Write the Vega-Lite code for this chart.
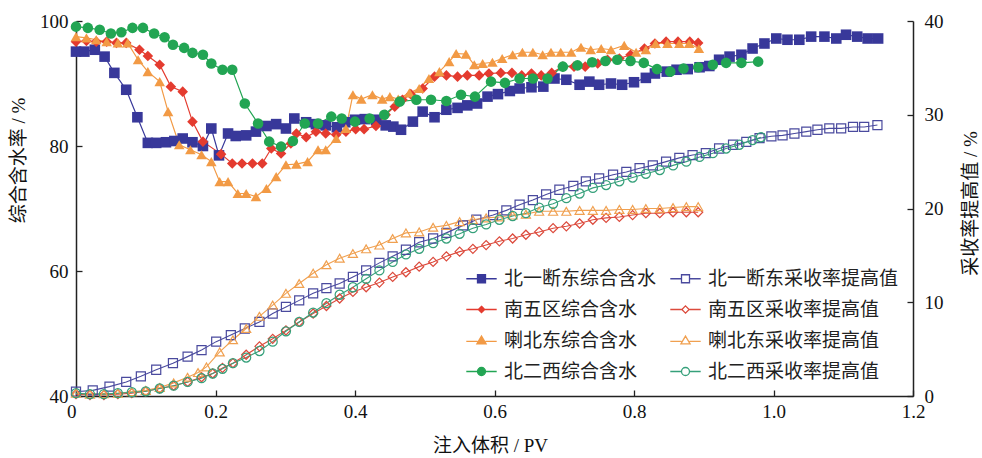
{
"$schema": "https://vega.github.io/schema/vega-lite/v6.json",
"width": 837, "height": 375,
"autosize": {"type": "none"},
"padding": {"left": 76, "top": 21, "right": 69, "bottom": 62},
"background": "white",
"config": {
  "view": {"stroke": null},
  "axis": {"domainColor": "#222", "domainWidth": 1.5, "tickColor": "#222", "tickWidth": 1.3, "tickSize": -6, "labelFont": "Liberation Serif, Times New Roman, serif", "labelFontSize": 19, "labelColor": "#111", "titleFont": "Liberation Serif, Noto Sans CJK SC, serif", "titleFontSize": 19, "titleFontWeight": "normal", "titleColor": "#111", "grid": false},
  "legend": {"labelFont": "Noto Sans CJK SC", "labelFontSize": 19, "labelColor": "#222", "labelLimit": 400}
},
"datasets": {
"wc": [
{"s":"北一断东","x":0,"v":95.1},{"s":"北一断东","x":0.012,"v":95.1},{"s":"北一断东","x":0.027,"v":95.4},{"s":"北一断东","x":0.041,"v":94.3},{"s":"北一断东","x":0.055,"v":91.7},{"s":"北一断东","x":0.072,"v":89.0},{"s":"北一断东","x":0.088,"v":84.6},{"s":"北一断东","x":0.103,"v":80.5},{"s":"北一断东","x":0.115,"v":80.5},{"s":"北一断东","x":0.129,"v":80.6},{"s":"北一断东","x":0.141,"v":80.8},{"s":"北一断东","x":0.153,"v":81.2},{"s":"北一断东","x":0.167,"v":80.6},{"s":"北一断东","x":0.182,"v":80.0},{"s":"北一断东","x":0.194,"v":82.8},{"s":"北一断东","x":0.205,"v":78.5},{"s":"北一断东","x":0.218,"v":82.0},{"s":"北一断东","x":0.229,"v":81.6},{"s":"北一断东","x":0.244,"v":81.7},{"s":"北一断东","x":0.258,"v":82.3},{"s":"北一断东","x":0.273,"v":83.2},{"s":"北一断东","x":0.287,"v":83.5},{"s":"北一断东","x":0.301,"v":82.8},{"s":"北一断东","x":0.313,"v":84.4},{"s":"北一断东","x":0.33,"v":83.8},{"s":"北一断东","x":0.344,"v":83.5},{"s":"北一断东","x":0.358,"v":83.3},{"s":"北一断东","x":0.374,"v":83.0},{"s":"北一断东","x":0.386,"v":83.8},{"s":"北一断东","x":0.4,"v":84.2},{"s":"北一断东","x":0.414,"v":84.3},{"s":"北一断东","x":0.43,"v":84.2},{"s":"北一断东","x":0.444,"v":83.3},{"s":"北一断东","x":0.455,"v":83.1},{"s":"北一断东","x":0.466,"v":82.6},{"s":"北一断东","x":0.483,"v":83.9},{"s":"北一断东","x":0.497,"v":85.5},{"s":"北一断东","x":0.514,"v":84.6},{"s":"北一断东","x":0.531,"v":85.8},{"s":"北一断东","x":0.547,"v":86.1},{"s":"北一断东","x":0.561,"v":86.5},{"s":"北一断东","x":0.575,"v":86.8},{"s":"北一断东","x":0.59,"v":87.9},{"s":"北一断东","x":0.605,"v":88.3},{"s":"北一断东","x":0.622,"v":88.8},{"s":"北一断东","x":0.636,"v":89.2},{"s":"北一断东","x":0.653,"v":89.4},{"s":"北一断东","x":0.67,"v":89.5},{"s":"北一断东","x":0.686,"v":90.8},{"s":"北一断东","x":0.703,"v":90.6},{"s":"北一断东","x":0.722,"v":89.8},{"s":"北一断东","x":0.736,"v":90.3},{"s":"北一断东","x":0.75,"v":89.8},{"s":"北一断东","x":0.767,"v":90.0},{"s":"北一断东","x":0.783,"v":89.8},{"s":"北一断东","x":0.8,"v":90.2},{"s":"北一断东","x":0.817,"v":90.9},{"s":"北一断东","x":0.83,"v":91.6},{"s":"北一断东","x":0.847,"v":91.9},{"s":"北一断东","x":0.861,"v":92.2},{"s":"北一断东","x":0.877,"v":92.3},{"s":"北一断东","x":0.894,"v":92.6},{"s":"北一断东","x":0.908,"v":92.8},{"s":"北一断东","x":0.922,"v":93.8},{"s":"北一断东","x":0.937,"v":94.3},{"s":"北一断东","x":0.954,"v":94.6},{"s":"北一断东","x":0.97,"v":95.6},{"s":"北一断东","x":0.987,"v":96.4},{"s":"北一断东","x":1.004,"v":97.2},{"s":"北一断东","x":1.02,"v":97.0},{"s":"北一断东","x":1.037,"v":97.0},{"s":"北一断东","x":1.054,"v":97.5},{"s":"北一断东","x":1.073,"v":97.5},{"s":"北一断东","x":1.09,"v":97.2},{"s":"北一断东","x":1.104,"v":97.8},{"s":"北一断东","x":1.12,"v":97.5},{"s":"北一断东","x":1.135,"v":97.2},{"s":"北一断东","x":1.15,"v":97.2},
{"s":"南五区","x":0,"v":96.7},{"s":"南五区","x":0.015,"v":96.8},{"s":"南五区","x":0.029,"v":96.7},{"s":"南五区","x":0.044,"v":96.7},{"s":"南五区","x":0.058,"v":96.5},{"s":"南五区","x":0.072,"v":96.5},{"s":"南五区","x":0.091,"v":95.4},{"s":"南五区","x":0.103,"v":94.4},{"s":"南五区","x":0.12,"v":93.0},{"s":"南五区","x":0.136,"v":89.5},{"s":"南五区","x":0.153,"v":88.7},{"s":"南五区","x":0.167,"v":83.9},{"s":"南五区","x":0.182,"v":80.7},{"s":"南五区","x":0.208,"v":78.7},{"s":"南五区","x":0.224,"v":77.2},{"s":"南五区","x":0.238,"v":77.2},{"s":"南五区","x":0.253,"v":77.2},{"s":"南五区","x":0.267,"v":77.2},{"s":"南五区","x":0.28,"v":79.6},{"s":"南五区","x":0.294,"v":78.8},{"s":"南五区","x":0.308,"v":80.4},{"s":"南五区","x":0.316,"v":82.0},{"s":"南五区","x":0.33,"v":81.4},{"s":"南五区","x":0.344,"v":82.3},{"s":"南五区","x":0.358,"v":82.0},{"s":"南五区","x":0.373,"v":81.8},{"s":"南五区","x":0.387,"v":82.3},{"s":"南五区","x":0.401,"v":82.7},{"s":"南五区","x":0.413,"v":82.7},{"s":"南五区","x":0.43,"v":83.2},{"s":"南五区","x":0.444,"v":85.0},{"s":"南五区","x":0.457,"v":86.3},{"s":"南五区","x":0.468,"v":87.4},{"s":"南五区","x":0.48,"v":88.3},{"s":"南五区","x":0.497,"v":89.2},{"s":"南五区","x":0.514,"v":91.1},{"s":"南五区","x":0.531,"v":91.3},{"s":"南五区","x":0.547,"v":91.1},{"s":"南五区","x":0.561,"v":91.3},{"s":"南五区","x":0.578,"v":91.3},{"s":"南五区","x":0.592,"v":91.6},{"s":"南五区","x":0.609,"v":91.7},{"s":"南五区","x":0.625,"v":91.7},{"s":"南五区","x":0.639,"v":91.3},{"s":"南五区","x":0.653,"v":91.6},{"s":"南五区","x":0.667,"v":91.3},{"s":"南五区","x":0.682,"v":91.7},{"s":"南五区","x":0.698,"v":92.7},{"s":"南五区","x":0.714,"v":92.7},{"s":"南五区","x":0.73,"v":92.7},{"s":"南五区","x":0.748,"v":93.2},{"s":"南五区","x":0.762,"v":93.8},{"s":"南五区","x":0.779,"v":94.0},{"s":"南五区","x":0.795,"v":94.6},{"s":"南五区","x":0.815,"v":95.6},{"s":"南五区","x":0.83,"v":96.4},{"s":"南五区","x":0.846,"v":96.7},{"s":"南五区","x":0.863,"v":96.7},{"s":"南五区","x":0.88,"v":96.7},{"s":"南五区","x":0.892,"v":96.5},
{"s":"喇北东","x":0,"v":97.5},{"s":"喇北东","x":0.015,"v":97.3},{"s":"喇北东","x":0.029,"v":97.0},{"s":"喇北东","x":0.044,"v":96.7},{"s":"喇北东","x":0.06,"v":96.5},{"s":"喇北东","x":0.074,"v":96.5},{"s":"喇北东","x":0.089,"v":93.8},{"s":"喇北东","x":0.103,"v":91.9},{"s":"喇北东","x":0.12,"v":90.3},{"s":"喇北东","x":0.132,"v":85.5},{"s":"喇北东","x":0.148,"v":80.2},{"s":"喇北东","x":0.164,"v":79.4},{"s":"喇北东","x":0.18,"v":78.6},{"s":"喇北东","x":0.194,"v":77.5},{"s":"喇北东","x":0.206,"v":74.3},{"s":"喇北东","x":0.218,"v":74.3},{"s":"喇北东","x":0.232,"v":72.4},{"s":"喇北东","x":0.244,"v":72.4},{"s":"喇北东","x":0.258,"v":71.9},{"s":"喇北东","x":0.273,"v":73.2},{"s":"喇北东","x":0.287,"v":75.1},{"s":"喇北东","x":0.301,"v":77.0},{"s":"喇北东","x":0.316,"v":77.1},{"s":"喇北东","x":0.332,"v":77.5},{"s":"喇北东","x":0.347,"v":79.4},{"s":"喇北东","x":0.358,"v":79.4},{"s":"喇北东","x":0.373,"v":81.2},{"s":"喇北东","x":0.387,"v":82.8},{"s":"喇北东","x":0.397,"v":88.2},{"s":"喇北东","x":0.409,"v":87.5},{"s":"喇北东","x":0.425,"v":88.2},{"s":"喇北东","x":0.439,"v":87.5},{"s":"喇北东","x":0.45,"v":87.9},{"s":"喇北东","x":0.462,"v":87.5},{"s":"喇北东","x":0.478,"v":88.5},{"s":"喇北东","x":0.492,"v":89.2},{"s":"喇北东","x":0.506,"v":90.8},{"s":"喇北东","x":0.521,"v":91.9},{"s":"喇北东","x":0.535,"v":93.5},{"s":"喇北东","x":0.545,"v":94.8},{"s":"喇北东","x":0.559,"v":94.7},{"s":"喇北东","x":0.571,"v":93.0},{"s":"喇北东","x":0.583,"v":93.2},{"s":"喇北东","x":0.597,"v":93.4},{"s":"喇北东","x":0.611,"v":94.0},{"s":"喇北东","x":0.626,"v":94.6},{"s":"喇北东","x":0.64,"v":95.0},{"s":"喇北东","x":0.655,"v":95.0},{"s":"喇北东","x":0.669,"v":94.6},{"s":"喇北东","x":0.681,"v":95.0},{"s":"喇北东","x":0.695,"v":95.0},{"s":"喇北东","x":0.71,"v":95.0},{"s":"喇北东","x":0.724,"v":95.8},{"s":"喇北东","x":0.738,"v":95.4},{"s":"喇北东","x":0.753,"v":95.6},{"s":"喇北东","x":0.767,"v":95.4},{"s":"喇北东","x":0.786,"v":96.1},{"s":"喇北东","x":0.803,"v":95.0},{"s":"喇北东","x":0.817,"v":95.4},{"s":"喇北东","x":0.831,"v":96.4},{"s":"喇北东","x":0.848,"v":96.4},{"s":"喇北东","x":0.865,"v":96.4},{"s":"喇北东","x":0.879,"v":96.4},{"s":"喇北东","x":0.893,"v":95.6},
{"s":"北二西","x":0,"v":99.1},{"s":"北二西","x":0.017,"v":98.9},{"s":"北二西","x":0.034,"v":98.6},{"s":"北二西","x":0.05,"v":98.0},{"s":"北二西","x":0.065,"v":98.2},{"s":"北二西","x":0.081,"v":98.9},{"s":"北二西","x":0.096,"v":98.9},{"s":"北二西","x":0.112,"v":98.0},{"s":"北二西","x":0.127,"v":97.4},{"s":"北二西","x":0.139,"v":96.2},{"s":"北二西","x":0.155,"v":95.7},{"s":"北二西","x":0.167,"v":94.9},{"s":"北二西","x":0.182,"v":94.6},{"s":"北二西","x":0.194,"v":93.2},{"s":"北二西","x":0.21,"v":92.2},{"s":"北二西","x":0.224,"v":92.2},{"s":"北二西","x":0.242,"v":86.8},{"s":"北二西","x":0.261,"v":83.6},{"s":"北二西","x":0.277,"v":80.7},{"s":"北二西","x":0.294,"v":79.9},{"s":"北二西","x":0.311,"v":80.8},{"s":"北二西","x":0.328,"v":83.6},{"s":"北二西","x":0.347,"v":83.6},{"s":"北二西","x":0.366,"v":84.7},{"s":"北二西","x":0.381,"v":84.4},{"s":"北二西","x":0.4,"v":83.9},{"s":"北二西","x":0.421,"v":84.4},{"s":"北二西","x":0.442,"v":85.0},{"s":"北二西","x":0.464,"v":87.1},{"s":"北二西","x":0.488,"v":87.4},{"s":"北二西","x":0.509,"v":87.4},{"s":"北二西","x":0.531,"v":87.2},{"s":"北二西","x":0.552,"v":88.2},{"s":"北二西","x":0.572,"v":87.9},{"s":"北二西","x":0.595,"v":90.3},{"s":"北二西","x":0.615,"v":90.1},{"s":"北二西","x":0.636,"v":90.8},{"s":"北二西","x":0.655,"v":90.8},{"s":"北二西","x":0.676,"v":90.8},{"s":"北二西","x":0.698,"v":92.7},{"s":"北二西","x":0.719,"v":92.9},{"s":"北二西","x":0.74,"v":93.4},{"s":"北二西","x":0.759,"v":93.6},{"s":"北二西","x":0.776,"v":93.8},{"s":"北二西","x":0.795,"v":93.6},{"s":"北二西","x":0.814,"v":93.3},{"s":"北二西","x":0.833,"v":92.3},{"s":"北二西","x":0.852,"v":91.9},{"s":"北二西","x":0.871,"v":92.4},{"s":"北二西","x":0.892,"v":92.6},{"s":"北二西","x":0.913,"v":93.0},{"s":"北二西","x":0.932,"v":93.3},{"s":"北二西","x":0.954,"v":93.3},{"s":"北二西","x":0.978,"v":93.5}
],
"rec": [
{"s":"北一断东","x":0,"v":0.46},{"s":"北一断东","x":0.024,"v":0.6},{"s":"北一断东","x":0.048,"v":1.0},{"s":"北一断东","x":0.072,"v":1.5},{"s":"北一断东","x":0.093,"v":2.1},{"s":"北一断东","x":0.115,"v":2.8},{"s":"北一断东","x":0.139,"v":3.5},{"s":"北一断东","x":0.16,"v":4.2},{"s":"北一断东","x":0.18,"v":4.9},{"s":"北一断东","x":0.201,"v":5.8},{"s":"北一断东","x":0.222,"v":6.5},{"s":"北一断东","x":0.242,"v":7.2},{"s":"北一断东","x":0.263,"v":7.9},{"s":"北一断东","x":0.282,"v":8.8},{"s":"北一断东","x":0.301,"v":9.5},{"s":"北一断东","x":0.32,"v":10.2},{"s":"北一断东","x":0.34,"v":10.95},{"s":"北一断东","x":0.359,"v":11.5},{"s":"北一断东","x":0.378,"v":12.0},{"s":"北一断东","x":0.397,"v":12.7},{"s":"北一断东","x":0.416,"v":13.4},{"s":"北一断东","x":0.435,"v":14.2},{"s":"北一断东","x":0.454,"v":14.9},{"s":"北一断东","x":0.473,"v":15.6},{"s":"北一断东","x":0.492,"v":16.4},{"s":"北一断东","x":0.512,"v":16.8},{"s":"北一断东","x":0.531,"v":17.4},{"s":"北一断东","x":0.555,"v":18.2},{"s":"北一断东","x":0.574,"v":18.8},{"s":"北一断东","x":0.598,"v":19.3},{"s":"北一断东","x":0.617,"v":19.8},{"s":"北一断东","x":0.636,"v":20.4},{"s":"北一断东","x":0.655,"v":20.9},{"s":"北一断东","x":0.674,"v":21.5},{"s":"北一断东","x":0.693,"v":22.0},{"s":"北一断东","x":0.713,"v":22.4},{"s":"北一断东","x":0.731,"v":22.9},{"s":"北一断东","x":0.75,"v":23.2},{"s":"北一断东","x":0.77,"v":23.6},{"s":"北一断东","x":0.789,"v":23.9},{"s":"北一断东","x":0.808,"v":24.3},{"s":"北一断东","x":0.827,"v":24.6},{"s":"北一断东","x":0.846,"v":25.0},{"s":"北一断东","x":0.865,"v":25.4},{"s":"北一断东","x":0.884,"v":25.7},{"s":"北一断东","x":0.903,"v":25.9},{"s":"北一断东","x":0.922,"v":26.4},{"s":"北一断东","x":0.942,"v":26.8},{"s":"北一断东","x":0.961,"v":27.1},{"s":"北一断东","x":0.98,"v":27.5},{"s":"北一断东","x":0.997,"v":27.7},{"s":"北一断东","x":1.013,"v":27.8},{"s":"北一断东","x":1.03,"v":28.0},{"s":"北一断东","x":1.047,"v":28.2},{"s":"北一断东","x":1.063,"v":28.4},{"s":"北一断东","x":1.08,"v":28.55},{"s":"北一断东","x":1.097,"v":28.55},{"s":"北一断东","x":1.114,"v":28.7},{"s":"北一断东","x":1.13,"v":28.7},{"s":"北一断东","x":1.149,"v":28.9},
{"s":"南五区","x":0,"v":0.2},{"s":"南五区","x":0.02,"v":0.1},{"s":"南五区","x":0.04,"v":0.1},{"s":"南五区","x":0.06,"v":0.2},{"s":"南五区","x":0.08,"v":0.3},{"s":"南五区","x":0.1,"v":0.5},{"s":"南五区","x":0.12,"v":0.8},{"s":"南五区","x":0.14,"v":1.1},{"s":"南五区","x":0.16,"v":1.5},{"s":"南五区","x":0.18,"v":2.0},{"s":"南五区","x":0.196,"v":2.4},{"s":"南五区","x":0.21,"v":3.0},{"s":"南五区","x":0.225,"v":3.5},{"s":"南五区","x":0.244,"v":4.4},{"s":"南五区","x":0.263,"v":5.3},{"s":"南五区","x":0.282,"v":6.1},{"s":"南五区","x":0.301,"v":7.0},{"s":"南五区","x":0.32,"v":7.9},{"s":"南五区","x":0.34,"v":8.8},{"s":"南五区","x":0.359,"v":9.6},{"s":"南五区","x":0.378,"v":10.4},{"s":"南五区","x":0.397,"v":11.1},{"s":"南五区","x":0.416,"v":11.6},{"s":"南五区","x":0.435,"v":12.1},{"s":"南五区","x":0.454,"v":12.7},{"s":"南五区","x":0.473,"v":13.2},{"s":"南五区","x":0.492,"v":13.8},{"s":"南五区","x":0.512,"v":14.3},{"s":"南五区","x":0.531,"v":14.9},{"s":"南五区","x":0.55,"v":15.4},{"s":"南五区","x":0.569,"v":15.7},{"s":"南五区","x":0.588,"v":16.1},{"s":"南五区","x":0.607,"v":16.5},{"s":"南五区","x":0.626,"v":16.8},{"s":"南五区","x":0.645,"v":17.2},{"s":"南五区","x":0.664,"v":17.5},{"s":"南五区","x":0.684,"v":17.9},{"s":"南五区","x":0.703,"v":18.1},{"s":"南五区","x":0.722,"v":18.4},{"s":"南五区","x":0.741,"v":18.8},{"s":"南五区","x":0.76,"v":19.0},{"s":"南五区","x":0.779,"v":19.1},{"s":"南五区","x":0.798,"v":19.3},{"s":"南五区","x":0.817,"v":19.5},{"s":"南五区","x":0.837,"v":19.5},{"s":"南五区","x":0.856,"v":19.6},{"s":"南五区","x":0.875,"v":19.6},{"s":"南五区","x":0.892,"v":19.6},
{"s":"喇北东","x":0,"v":0.3},{"s":"喇北东","x":0.02,"v":0.2},{"s":"喇北东","x":0.04,"v":0.25},{"s":"喇北东","x":0.06,"v":0.3},{"s":"喇北东","x":0.08,"v":0.45},{"s":"喇北东","x":0.1,"v":0.6},{"s":"喇北东","x":0.12,"v":0.9},{"s":"喇北东","x":0.14,"v":1.4},{"s":"喇北东","x":0.16,"v":2.0},{"s":"喇北东","x":0.175,"v":2.5},{"s":"喇北东","x":0.187,"v":3.1},{"s":"喇北东","x":0.206,"v":4.7},{"s":"喇北东","x":0.225,"v":6.0},{"s":"喇北东","x":0.244,"v":7.2},{"s":"喇北东","x":0.263,"v":8.5},{"s":"喇北东","x":0.282,"v":9.7},{"s":"喇北东","x":0.301,"v":10.95},{"s":"喇北东","x":0.32,"v":12.0},{"s":"喇北东","x":0.34,"v":13.1},{"s":"喇北东","x":0.359,"v":14.0},{"s":"喇北东","x":0.378,"v":14.7},{"s":"喇北东","x":0.397,"v":15.2},{"s":"喇北东","x":0.416,"v":15.7},{"s":"喇北东","x":0.435,"v":16.1},{"s":"喇北东","x":0.454,"v":16.8},{"s":"喇北东","x":0.473,"v":17.4},{"s":"喇北东","x":0.492,"v":17.5},{"s":"喇北东","x":0.512,"v":18.0},{"s":"喇北东","x":0.531,"v":18.2},{"s":"喇北东","x":0.55,"v":18.6},{"s":"喇北东","x":0.569,"v":18.8},{"s":"喇北东","x":0.588,"v":19.0},{"s":"喇北东","x":0.607,"v":19.1},{"s":"喇北东","x":0.626,"v":19.3},{"s":"喇北东","x":0.645,"v":19.4},{"s":"喇北东","x":0.664,"v":19.7},{"s":"喇北东","x":0.684,"v":19.7},{"s":"喇北东","x":0.703,"v":19.7},{"s":"喇北东","x":0.722,"v":19.8},{"s":"喇北东","x":0.741,"v":19.8},{"s":"喇北东","x":0.76,"v":19.8},{"s":"喇北东","x":0.779,"v":19.9},{"s":"喇北东","x":0.798,"v":19.9},{"s":"喇北东","x":0.817,"v":20.0},{"s":"喇北东","x":0.837,"v":20.0},{"s":"喇北东","x":0.856,"v":20.1},{"s":"喇北东","x":0.875,"v":20.2},{"s":"喇北东","x":0.892,"v":20.2},
{"s":"北二西","x":0,"v":0.3},{"s":"北二西","x":0.02,"v":0.2},{"s":"北二西","x":0.04,"v":0.2},{"s":"北二西","x":0.06,"v":0.3},{"s":"北二西","x":0.08,"v":0.4},{"s":"北二西","x":0.1,"v":0.5},{"s":"北二西","x":0.12,"v":0.8},{"s":"北二西","x":0.14,"v":1.1},{"s":"北二西","x":0.16,"v":1.5},{"s":"北二西","x":0.18,"v":1.9},{"s":"北二西","x":0.196,"v":2.4},{"s":"北二西","x":0.21,"v":2.9},{"s":"北二西","x":0.225,"v":3.5},{"s":"北二西","x":0.244,"v":4.1},{"s":"北二西","x":0.263,"v":4.8},{"s":"北二西","x":0.282,"v":5.8},{"s":"北二西","x":0.301,"v":6.9},{"s":"北二西","x":0.32,"v":7.9},{"s":"北二西","x":0.34,"v":8.9},{"s":"北二西","x":0.359,"v":9.9},{"s":"北二西","x":0.378,"v":10.8},{"s":"北二西","x":0.397,"v":11.6},{"s":"北二西","x":0.416,"v":12.5},{"s":"北二西","x":0.435,"v":13.4},{"s":"北二西","x":0.454,"v":14.3},{"s":"北二西","x":0.473,"v":15.1},{"s":"北二西","x":0.492,"v":15.7},{"s":"北二西","x":0.512,"v":16.3},{"s":"北二西","x":0.531,"v":16.8},{"s":"北二西","x":0.55,"v":17.3},{"s":"北二西","x":0.569,"v":17.9},{"s":"北二西","x":0.588,"v":18.3},{"s":"北二西","x":0.607,"v":18.8},{"s":"北二西","x":0.626,"v":19.2},{"s":"北二西","x":0.645,"v":19.5},{"s":"北二西","x":0.664,"v":20.1},{"s":"北二西","x":0.684,"v":20.5},{"s":"北二西","x":0.703,"v":21.1},{"s":"北二西","x":0.722,"v":21.6},{"s":"北二西","x":0.741,"v":22.2},{"s":"北二西","x":0.76,"v":22.5},{"s":"北二西","x":0.779,"v":22.9},{"s":"北二西","x":0.798,"v":23.3},{"s":"北二西","x":0.817,"v":23.7},{"s":"北二西","x":0.837,"v":24.1},{"s":"北二西","x":0.856,"v":24.6},{"s":"北二西","x":0.875,"v":25.0},{"s":"北二西","x":0.894,"v":25.5},{"s":"北二西","x":0.913,"v":25.9},{"s":"北二西","x":0.932,"v":26.4},{"s":"北二西","x":0.951,"v":26.8},{"s":"北二西","x":0.97,"v":27.3},{"s":"北二西","x":0.982,"v":27.6}
]
},
"layer": [
 {
  "data": {"name": "rec"},
  "encoding": {
    "x": {"field": "x", "type": "quantitative", "scale": {"domain": [0, 1.2], "nice": false},
      "axis": {"values": [0, 0.2, 0.4, 0.6, 0.8, 1.0, 1.2], "labelExpr": "datum.value == 0 ? '0' : format(datum.value, '.1f')", "labelAlign": {"condition": {"test": "datum.value == 0", "value": "right"}, "value": "center"}, "title": "注入体积 / PV", "labelPadding": 12, "titleX": 414, "titleY": 49, "titleBaseline": "middle"}},
    "y": {"field": "v", "type": "quantitative", "scale": {"domain": [0, 40], "nice": false},
      "axis": {"orient": "right", "values": [0, 10, 20, 30, 40], "title": "采收率提高值 / %", "titleAngle": -90, "titleX": 57, "titleY": 182, "titleAlign": "center", "titleBaseline": "middle", "labelPadding": 17}},
    "color": {"field": "s", "type": "nominal", "scale": {"domain": ["北一断东", "南五区", "喇北东", "北二西"], "range": ["#4a4a9e", "#dc4a3c", "#f0a050", "#35a07a"]}, "legend": null}
  },
  "layer": [
    {"mark": {"type": "line", "strokeWidth": 1.1}},
    {"mark": {"type": "point", "filled": false, "opacity": 1, "size": 82, "strokeWidth": 1.2},
     "encoding": {"shape": {"field": "s", "type": "nominal", "scale": {"domain": ["北一断东", "南五区", "喇北东", "北二西"], "range": ["square", "diamond", "triangle-up", "circle"]}, "legend": null}}}
  ]
 },
 {
  "data": {"name": "wc"},
  "encoding": {
    "x": {"field": "x", "type": "quantitative", "scale": {"domain": [0, 1.2], "nice": false}},
    "y": {"field": "v", "type": "quantitative", "scale": {"domain": [40, 100], "nice": false},
      "axis": {"orient": "left", "values": [40, 60, 80, 100], "title": "综合含水率 / %", "titleAngle": -90, "titleX": -58, "titleY": 139, "titleAlign": "center", "titleBaseline": "middle", "labelPadding": 14}},
    "color": {"field": "s", "type": "nominal", "scale": {"domain": ["北一断东", "南五区", "喇北东", "北二西"], "range": ["#38389a", "#e43b2f", "#f29a45", "#22a553"]}, "legend": null}
  },
  "layer": [
    {"mark": {"type": "line", "strokeWidth": 1.2}},
    {"mark": {"type": "point", "filled": true, "opacity": 1, "size": 112},
     "encoding": {"shape": {"field": "s", "type": "nominal", "scale": {"domain": ["北一断东", "南五区", "喇北东", "北二西"], "range": ["square", "diamond", "triangle-up", "circle"]}, "legend": null}}}
  ]
 },
 {
  "data": {"name": "wc"},
  "transform": [{"filter": "false"}],
  "mark": {"type": "point", "opacity": 1, "size": 64, "strokeWidth": 1.3},
  "encoding": {
    "shape": {"field": "s", "type": "nominal", "title": null,
      "scale": {"domain": ["北一断东综合含水", "南五区综合含水", "喇北东综合含水", "北二西综合含水", "北一断东采收率提高值", "南五区采收率提高值", "喇北东采收率提高值", "北二西采收率提高值"],
        "range": ["M-3.8,0H-1M1,0H3.8M-1,-1H1V1H-1Z", "M-3.8,0H-0.8M0.8,0H3.8M0,-0.8L0.8,0L0,0.8L-0.8,0Z", "M-3.8,0.2H-1M1,0.2H3.8M0,-1.1L1.15,0.85H-1.15Z", "M-3.8,0H-1M1,0H3.8M-1,0A1,1,0,1,1,1,0A1,1,0,1,1,-1,0Z", "M-3.8,0H-1M1,0H3.8M-1,-1H1V1H-1Z", "M-3.8,0H-0.9M0.9,0H3.8M0,-0.9L0.9,0L0,0.9L-0.9,0Z", "M-3.8,0.2H-1M1,0.2H3.8M0,-1.1L1.15,0.85H-1.15Z", "M-3.8,0H-1M1,0H3.8M-1,0A1,1,0,1,1,1,0A1,1,0,1,1,-1,0Z"]},
      "legend": {"orient": "none", "legendX": 385, "legendY": 248, "columns": 2, "columnPadding": 8, "rowPadding": 11, "symbolSize": 64, "symbolOffset": 11, "labelOffset": 13, "padding": 0, "symbolStrokeWidth": 1.3}},
    "fill": {"field": "s", "type": "nominal", "title": null,
      "scale": {"domain": ["北一断东综合含水", "南五区综合含水", "喇北东综合含水", "北二西综合含水", "北一断东采收率提高值", "南五区采收率提高值", "喇北东采收率提高值", "北二西采收率提高值"],
        "range": ["#38389a", "#e43b2f", "#f29a45", "#22a553", "transparent", "transparent", "transparent", "transparent"]}},
    "stroke": {"field": "s", "type": "nominal", "title": null,
      "scale": {"domain": ["北一断东综合含水", "南五区综合含水", "喇北东综合含水", "北二西综合含水", "北一断东采收率提高值", "南五区采收率提高值", "喇北东采收率提高值", "北二西采收率提高值"],
        "range": ["#38389a", "#e43b2f", "#f29a45", "#22a553", "#4a4a9e", "#dc4a3c", "#f0a050", "#35a07a"]}}
  }
 }
],
"resolve": {"scale": {"y": "independent", "color": "independent", "shape": "independent", "fill": "independent", "stroke": "independent"}, "axis": {"y": "independent"}}
}
